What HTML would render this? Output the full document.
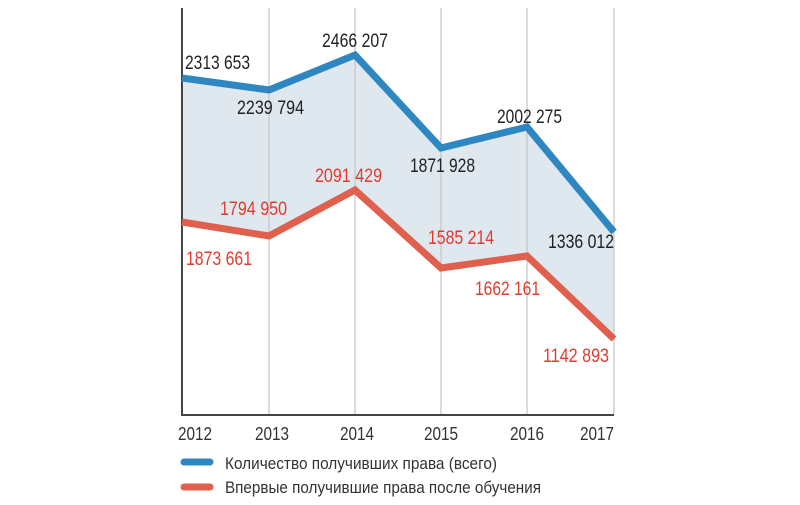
<!DOCTYPE html>
<html><head><meta charset="utf-8"><style>
html,body{margin:0;padding:0;background:#fff;}
svg text{font-family:"Liberation Sans Narrow","Liberation Sans",sans-serif;}
</style></head><body>
<svg width="800" height="500" viewBox="0 0 800 500" xmlns="http://www.w3.org/2000/svg">
<polygon points="182,78 269,90 355,55 441,148 527,127 614,232 614,339 527,256 441,268 355,190 269,236 182,222" fill="#dfe7ef"/>
<g stroke="#c8c8c8" stroke-width="1.3">
<line x1="269" y1="8" x2="269" y2="415"/><line x1="355" y1="8" x2="355" y2="415"/>
<line x1="441" y1="8" x2="441" y2="415"/><line x1="527" y1="8" x2="527" y2="415"/>
<line x1="614" y1="8" x2="614" y2="415"/>
</g>
<line x1="182" y1="8" x2="182" y2="415" stroke="#444" stroke-width="2"/>
<line x1="181" y1="415" x2="614" y2="415" stroke="#444" stroke-width="2"/>
<polyline points="182,78 269,90 355,55 441,148 527,127 614,232" fill="none" stroke="#2e87c0" stroke-width="7"/>
<polyline points="182,222 269,236 355,190 441,268 527,256 614,339" fill="none" stroke="#e0604e" stroke-width="7"/>
<g font-size="19" fill="#222" lengthAdjust="spacingAndGlyphs">
<text x="185" y="69" textLength="65" lengthAdjust="spacingAndGlyphs">2313 653</text>
<text x="237" y="114" textLength="67" lengthAdjust="spacingAndGlyphs">2239 794</text>
<text x="322" y="47" textLength="66" lengthAdjust="spacingAndGlyphs">2466 207</text>
<text x="410" y="172" textLength="65" lengthAdjust="spacingAndGlyphs">1871 928</text>
<text x="497" y="123" textLength="65" lengthAdjust="spacingAndGlyphs">2002 275</text>
<text x="548" y="248" textLength="66" lengthAdjust="spacingAndGlyphs">1336 012</text>
</g>
<g font-size="19" fill="#e23b2e">
<text x="220" y="215" textLength="67" lengthAdjust="spacingAndGlyphs">1794 950</text>
<text x="315" y="182" textLength="67" lengthAdjust="spacingAndGlyphs">2091 429</text>
<text x="428" y="244" textLength="66" lengthAdjust="spacingAndGlyphs">1585 214</text>
<text x="186" y="265" textLength="66" lengthAdjust="spacingAndGlyphs">1873 661</text>
<text x="475" y="295" textLength="65" lengthAdjust="spacingAndGlyphs">1662 161</text>
<text x="543" y="362" textLength="66" lengthAdjust="spacingAndGlyphs">1142 893</text>
</g>
<g font-size="18" fill="#333">
<text x="178" y="440" textLength="34" lengthAdjust="spacingAndGlyphs">2012</text>
<text x="255" y="440" textLength="34" lengthAdjust="spacingAndGlyphs">2013</text>
<text x="340" y="440" textLength="34" lengthAdjust="spacingAndGlyphs">2014</text>
<text x="424" y="440" textLength="34" lengthAdjust="spacingAndGlyphs">2015</text>
<text x="510" y="440" textLength="34" lengthAdjust="spacingAndGlyphs">2016</text>
<text x="580" y="440" textLength="34" lengthAdjust="spacingAndGlyphs">2017</text>
</g>
<line x1="184" y1="462" x2="210" y2="462" stroke="#2e87c0" stroke-width="7" stroke-linecap="round"/>
<line x1="184" y1="487" x2="210" y2="487" stroke="#e0604e" stroke-width="7" stroke-linecap="round"/>
<g font-size="17" fill="#333">
<text x="225" y="469" textLength="272" lengthAdjust="spacingAndGlyphs">Количество получивших права (всего)</text>
<text x="225" y="493" textLength="316" lengthAdjust="spacingAndGlyphs">Впервые получившие права после обучения</text>
</g>
</svg>
</body></html>
